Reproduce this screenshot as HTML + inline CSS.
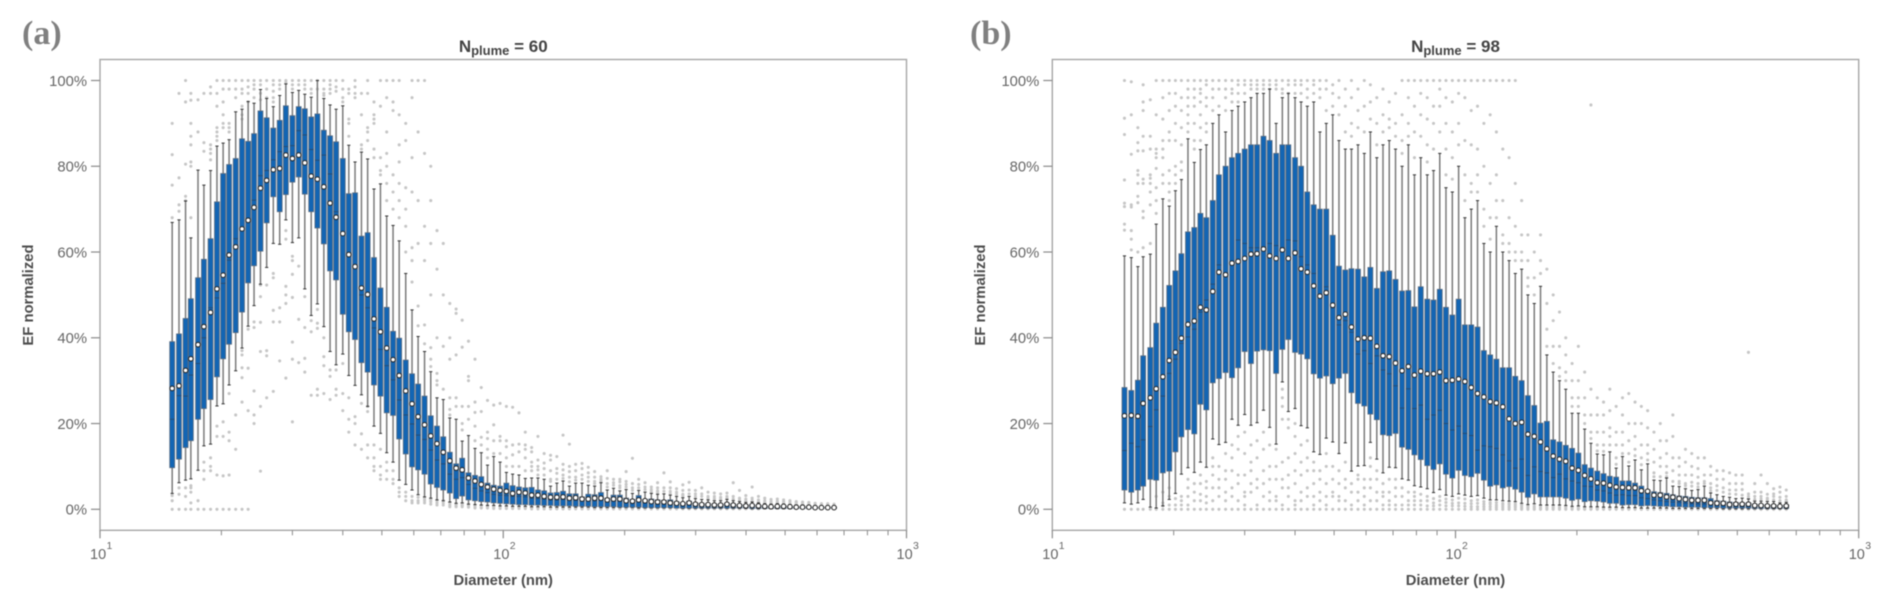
<!DOCTYPE html>
<html lang="en">
<head>
<meta charset="utf-8">
<title>EF normalized vs diameter</title>
<style>
html,body{margin:0;padding:0;background:#fff;width:1892px;height:610px;overflow:hidden}
svg{display:block;filter:blur(0.45px)}
text{font-family:"Liberation Sans",sans-serif}
</style>
</head>
<body>
<svg id="chart" xmlns="http://www.w3.org/2000/svg" width="1892" height="610" viewBox="0 0 1892 610"></svg>
<script>
const diameters=[
15.1,15.7,16.3,16.8,17.5,18.1,18.8,19.5,20.2,20.9,
21.7,22.5,23.3,24.1,25.0,25.9,26.9,27.9,28.9,30.0,
31.1,32.2,33.4,34.6,35.9,37.2,38.5,40.0,41.4,42.9,
44.5,46.1,47.8,49.6,51.4,53.3,55.2,57.3,59.4,61.5,
63.8,66.1,68.5,71.0,73.7,76.4,79.1,82.0,85.1,88.2,
91.4,94.7,98.2,101.8,105.5,109.4,113.4,117.6,121.9,126.3,
131.0,135.8,140.7,145.9,151.2,156.8,162.5,168.5,174.7,181.1,
187.7,194.6,201.7,209.1,216.7,224.7,232.9,241.4,250.3,259.5,
269.0,278.8,289.0,299.6,310.6,322.0,333.8,346.0,358.7,371.8,
385.4,399.5,414.2,429.4,445.1,461.4,478.3,495.8,514.0,532.8,
552.3,572.5,593.5,615.3,637.8,661.2];
const yTicks=[0,20,40,60,80,100];
const xMajorExponents=[1,2,3];
const xMinorMultipliers=[2,3,4,5,6,7,8,9];

const meanA=[
28.2,28.8,32.4,35.1,38.4,42.6,45.9,51.4,54.6,59.3,
61.2,65.4,67.4,70.4,74.9,76.7,79.2,79.5,82.6,81.8,
82.6,80.8,77.7,77.0,75.2,71.4,68.1,64.3,59.4,56.6,
51.6,50.1,44.4,41.4,37.6,34.9,31.2,27.6,24.6,21.6,
19.7,17.1,15.3,13.3,11.3,9.6,9.2,7.3,6.6,5.8,
5.2,4.7,4.4,4.2,3.7,4.0,3.8,3.3,3.3,3.0,
2.8,2.8,2.9,2.6,2.7,2.4,2.4,2.6,2.6,2.2,
2.4,2.4,2.0,1.9,2.2,2.0,1.8,1.7,1.7,1.5,
1.4,1.3,1.5,1.2,1.1,1.1,1.0,1.0,1.2,1.0,
0.9,0.8,0.9,0.8,0.7,0.6,0.7,0.7,0.6,0.5,
0.5,0.5,0.4,0.4,0.4,0.4];
const q3A=[
39.1,40.9,44.5,49.1,54.0,58.3,63.1,71.7,78.3,80.4,
81.8,86.4,85.8,87.6,92.9,91.3,88.9,90.7,94.1,91.8,
93.9,93.4,91.5,92.2,88.4,87.1,85.7,81.8,73.6,73.8,
63.7,64.5,58.7,51.6,47.1,41.5,39.9,34.8,31.6,29.2,
26.4,21.8,19.4,16.9,13.3,10.6,11.9,8.5,7.9,7.6,
6.1,5.6,5.4,6.1,5.5,5.2,5.0,5.1,4.5,4.3,
3.8,3.9,4.2,3.6,3.6,2.9,3.5,3.4,3.9,2.6,
3.3,3.3,2.6,2.3,3.2,2.3,2.4,2.2,2.1,2.2,
1.8,1.6,1.9,1.5,1.4,1.3,1.2,1.2,1.4,1.2,
1.1,1.0,1.1,0.9,0.8,0.7,0.8,0.8,0.7,0.6,
0.6,0.6,0.5,0.5,0.5,0.5];
const q1A=[
9.7,11.7,14.4,16.0,21.0,23.5,25.6,30.9,35.1,38.5,
41.2,46.0,52.8,56.8,60.2,66.8,72.9,69.4,73.4,76.3,
77.5,73.5,69.4,65.6,61.9,55.6,53.5,45.5,41.4,39.6,
34.2,32.0,29.0,26.4,22.5,21.9,16.4,12.9,9.9,9.2,
8.2,5.9,5.1,4.5,3.8,2.5,3.1,2.2,2.0,1.8,
1.7,1.5,1.4,1.3,1.2,1.1,1.1,1.0,1.0,0.9,
0.9,0.8,0.8,0.8,0.7,0.7,0.7,0.6,0.6,0.6,
0.6,0.5,0.5,0.5,0.5,0.4,0.4,0.4,0.4,0.4,
0.3,0.3,0.3,0.3,0.3,0.3,0.3,0.3,0.3,0.3,
0.3,0.3,0.2,0.2,0.2,0.2,0.2,0.2,0.2,0.2,
0.2,0.2,0.2,0.2,0.2,0.2];
const medianA=[
21.0,26.5,26.4,31.3,34.0,40.0,47.0,49.3,52.7,58.1,
63.1,65.0,67.0,72.1,77.8,79.0,81.5,83.4,84.6,84.8,
88.3,87.3,83.9,81.4,82.6,78.2,69.4,63.9,59.7,57.0,
50.0,47.0,42.3,37.3,33.5,30.2,25.5,22.0,19.9,17.3,
16.3,13.8,11.5,10.6,8.2,7.0,7.4,5.8,4.9,4.3,
3.9,3.5,3.3,3.2,3.0,3.0,2.9,2.6,2.5,2.4,
2.2,2.2,2.3,2.1,2.1,1.9,2.0,2.0,2.1,1.7,
1.9,1.9,1.6,1.5,1.8,1.5,1.4,1.3,1.3,1.2,
1.1,1.0,1.1,0.9,0.9,0.8,0.8,0.8,0.9,0.8,
0.7,0.6,0.7,0.6,0.6,0.5,0.5,0.5,0.5,0.4,
0.4,0.4,0.4,0.3,0.3,0.3];
const highA=[
66.9,67.5,71.9,63.3,79.1,75.6,79.0,84.7,85.4,86.2,
92.7,93.3,95.1,94.7,97.9,95.8,93.9,96.5,99.2,97.2,
97.7,96.8,96.1,100,95.8,94.3,93.3,94.1,84.9,81.0,
83.3,81.7,74.7,75.9,68.4,66.2,62.6,55.0,46.5,40.3,
36.8,32.1,26.0,25.6,21.3,21.0,15.9,17.2,14.2,13.2,
10.3,12.3,11.0,8.6,8.2,8.0,7.2,7.3,7.3,7.0,
5.4,6.1,6.6,5.4,6.1,6.1,5.6,5.4,6.2,4.5,
4.9,4.3,4.6,3.7,4.4,4.0,3.7,3.5,3.6,3.3,
3.0,2.7,3.0,2.5,2.3,2.2,2.0,2.0,2.3,2.0,
1.8,1.6,1.7,1.5,1.3,1.2,1.3,1.2,1.1,1.0,
1.0,0.9,0.8,0.8,0.8,0.8];
const lowA=[
3.7,6.2,6.8,7.1,9.1,14.8,15.2,24.1,24.6,29.0,
32.3,37.6,42.7,47.5,52.5,56.4,62.0,61.8,67.5,62.2,
63.3,51.4,45.2,47.9,42.6,36.8,33.7,36.2,31.2,28.9,
26.7,24.0,19.4,17.7,13.2,11.0,6.8,5.8,4.5,3.4,
2.9,2.6,2.2,2.0,1.7,1.4,1.5,1.2,1.1,1.0,
0.9,0.9,0.8,0.8,0.7,0.7,0.7,0.6,0.6,0.6,
0.5,0.5,0.5,0.5,0.5,0.5,0.5,0.4,0.4,0.4,
0.4,0.4,0.4,0.4,0.3,0.3,0.3,0.3,0.3,0.3,
0.3,0.2,0.2,0.2,0.2,0.2,0.2,0.2,0.2,0.2,
0.2,0.2,0.1,0.1,0.1,0.1,0.1,0.1,0.1,0.1,
0.1,0.1,0.1,0.1,0.1,0.1];
const outliersA=[
[90,82.7,75.6,68,0,2,3.2],
[97,77.3,71,69.5,0,3.5,5],
[100,95,80.5,73,72,0,3,5],
[97,95.4,90,87,85,81,80,68,0,1.5,4,5,5.5],
[95.5,88,0,2],
[97,85.5,83.5,0,7,9,11],
[98.5,97,85,84,83,81.5,0,9,10,12],
[100,97,94,89,88,87,86,0,8,19.4,17],
[100,98,95,92,90,89,0,7.8,20.4,17],
[100,98,90,89,88,0,8,27,18,16],
[100,98,96,0,14,22],
[100,98,97,94,92,91,0,37,36,33,30.7,25],
[100,98.5,97,95,0,42,32.9,23],
[100,99,98,96,43.7,42.4,27.6,22,20],
[100,99,97,95.5,52.3,49.6,43.6,36.8,24,8.9],
[100,98,96,52.3,37,35.8,26],
[100,99,97.5,96,95,55,54,46.4,43.7,27.5],
[100,99,98,47,43.7,34.6],
[100,99.5,65,63,52,50,48,30.6],
[100,99,98,59,58,54.8,49.4,39,35,20.4],
[100,99,56.7,44.3,34.2],
[100,99,98,49.6,42.4,35.2,32],
[100,98,97,44,41.4,26.6],
[100,98,46.6,43.4,42.2,28,26.6],
[100,98,97,96.5,40,35.6,33.5,27],
[100,99,98,97,32.5,31,25.6],
[100,98.5,97.5,32.5,28,26.6],
[100,98,96,95,34,27,23],
[98,97,91,90,87,26,21,18],
[100,98.5,97,96,21.6,20,15],
[97,92,85,84,24.7,17.6,14],
[100,97,89,88,86,24,22.8,15,12],
[95,92,91,90,84,82,15,12,10,9],
[100,94,82,79,78,14,10,8,7],
[100,96,88,83,80,76,72,11,9,7],
[100,95,93,78,74,70,9,7,6],
[100,92,85,81,76,72,68,5,4,3],
[90,86,75,70,66,60,4,3,2],
[100,96,82,74,61,58,53,3,2,1.5],
[100,88,72,62,47.4,42.8,2.8,2,1.5],
[100,83,66,58,43,38.6,2.5,2,1.5],
[80,72,62,50,37.7,35,33.3,2.3,1.8,1.2],
[65,56,40,31.7,30,29,2,1.5,1],
[62,50,38,28,2,1.5,1],
[48,40,35,26,23.3,22,1.5,1,0.6],
[46.7,45.7,36,26,24,1.2,0.9,0.6],
[44.1,37.8,24,20,18.5,1.2,0.9,0.6],
[39.2,31,30,24,21,1.1,0.8,0.5],
[35,25,22.6,19.4,16,0.9,0.6,0.3],
[28.4,22.8,16.8,15,0.8,0.5,0.3],
[25.4,18,16.5,14,12,0.8,0.5,0.3],
[24.3,19.7,16,13,0.8,0.5,0.2],
[24.7,17,16,13,0.7,0.4,0.2],
[24,16,14.6,12,10,0.7,0.4,0.2],
[23.8,15,12.7,10,0.6,0.4,0.2],
[22.5,15.2,13.4,10,0.6,0.4,0.2],
[18,15,14,12,9,0.6,0.4,0.2],
[14.4,13.4,11,10,9,0.5,0.3,0.1],
[17,11.5,10,9.2,8,0.5,0.3,0.1],
[13,10.8,9.5,8,0.5,0.3,0.1],
[12.6,11.5,9,7,6.5,0.4,0.2,0.1],
[12.3,9.5,8.4,7,0.4,0.2,0.1],
[17.3,10.5,9.2,8,7.2,0.4,0.2,0.1],
[15.2,10,8.8,7.5,6.4,0.4,0.2,0.1],
[10.5,9,7.5,6.8,0.3,0.1],
[10.7,9.5,8,7,0.3,0.1],
[9.8,8.5,7.5,6.5,0.3,0.1],
[8.8,7.5,6.5,6,0.3,0.1],
[7.6,7,6.6,0.3,0.1],
[9,7.2,6,5.2,0.3,0.1],
[7,6.2,5.6,0.2,0.1],
[7,6.4,5.5,5,0.2,0.1],
[8.8,6.5,5.8,5.2,0.2,0.1],
[11.9,6,5,4.4,0.2,0.1],
[7,5.8,5,0.2,0.1],
[6.2,5.2,4.6,0.2,0.1],
[5.2,4.6,4.1,0.1],
[6.2,5,4.3,3.9,0.1],
[8.5,5,4.2,0.1],
[6.4,5,4.2,3.7,0.1],
[4.8,4,3.5,0.1],
[5.7,4.4,3.5,3.2,0.1],
[6.3,4.5,3.6,0.1],
[4.4,3.6,3,0.1],
[5,3.6,3,0.1],
[4,3,2.6,0.1],
[3.8,3,2.5,0.1],
[3.6,2.8,2.4,0.1],
[3.8,3,2.6,0.1],
[6.2,3,2.4,0.1],
[4.4,2.6,2.2,0.1],
[3.2,2.4,2,0.1],
[5.2,2.6,2.1,0.1],
[3,2.2,1.8,0.1],
[2.6,2,1.6],
[2.3,1.8,1.5],
[2.4,1.9,1.6],
[2.2,1.8,1.5],
[2,1.6,1.3],
[1.8,1.5,1.2],
[1.7,1.4,1.2],
[1.6,1.3],
[1.4,1.1],
[1.3,1.1],
[1.3,1],
[1.2,1]];

const meanB=[
21.8,21.9,21.7,24.7,26.0,28.1,30.9,34.7,36.6,39.9,
43.1,43.9,47.1,46.5,50.8,55.3,54.7,57.4,57.8,58.5,
59.5,59.6,60.7,59.1,58.5,60.5,58.5,59.8,56.1,55.3,
52.1,49.7,50.5,47.6,44.7,45.5,42.5,39.7,40.0,39.9,
38.0,35.8,35.6,34.1,32.3,33.3,31.3,32.2,31.6,31.6,
32.0,30.0,30.1,30.4,29.8,28.4,27.0,26.2,25.1,24.8,
23.9,21.1,20.0,20.3,17.5,17.0,15.7,14.1,12.4,11.7,
11.2,9.6,9.1,7.9,7.1,6.2,6.1,5.6,5.2,5.1,
5.0,5.0,4.3,4.2,3.3,3.3,2.9,2.8,2.5,2.3,
2.1,2.1,2.1,1.5,1.4,1.4,1.1,1.2,1.2,1.2,
0.9,0.9,0.8,0.8,0.7,0.8];
const q3B=[
28.4,27.7,30.1,35.8,37.7,43.4,47.1,52.2,55.6,59.6,
64.7,65.7,69.0,68.0,72.0,78.0,80.0,82.0,83.0,84.0,
85.0,85.0,87.0,86.0,83.0,85.0,85.0,82.0,80.0,74.0,
71.0,70.0,70.0,63.9,56.7,55.8,56.1,56.0,54.2,56.4,
51.5,55.4,55.6,53.6,50.9,51.0,47.2,51.9,49.0,48.8,
51.3,47.1,45.3,49.0,43.0,43.0,42.5,37.0,36.0,35.0,
33.0,33.0,31.0,30.0,26.5,24.2,20.1,20.5,16.2,15.7,
14.9,14.2,13.1,10.4,9.6,8.9,8.3,7.7,7.5,6.6,
6.6,6.1,5.4,4.5,4.1,3.9,3.7,3.4,3.1,3.0,
2.8,2.7,2.7,2.5,2.0,1.9,1.7,1.6,1.5,1.5,
1.2,1.1,1.0,1.0,0.9,1.0];
const q1B=[
4.5,4.0,4.5,5.4,7.0,6.8,8.5,8.9,13.4,16.9,
18.6,17.6,24.5,23.2,29.5,30.5,31.9,30.7,33.0,36.8,
34.0,36.9,37.2,37.0,31.7,37.3,39.6,36.6,36.2,35.1,
31.6,30.6,31.1,29.3,30.6,31.7,27.2,24.7,24.1,22.2,
20.9,17.4,17.2,17.7,14.5,14.0,12.7,11.6,10.2,9.3,
10.6,8.2,7.3,9.1,7.9,7.6,8.4,6.8,5.4,5.7,
5.0,5.3,4.7,4.0,2.8,3.6,2.9,2.9,2.9,2.9,
2.6,2.1,2.4,1.8,2.0,1.9,1.7,1.4,1.4,1.0,
1.1,1.1,0.8,0.9,0.8,0.7,0.7,0.6,0.6,0.5,
0.5,0.5,0.4,0.4,0.4,0.3,0.3,0.3,0.3,0.3,
0.2,0.2,0.2,0.2,0.2,0.2];
const medianB=[
13.7,15.4,14.6,16.2,19.3,23.2,26.4,31.7,35.0,38.7,
40.2,42.0,46.0,48.8,52.5,57.0,55.0,57.0,62.8,62.0,
61.0,61.0,61.2,62.0,61.5,61.0,62.8,62.6,58.9,57.0,
55.0,50.0,51.9,47.0,43.0,44.0,41.3,36.2,37.0,34.0,
35.8,32.5,31.6,28.8,23.6,28.1,23.5,24.3,21.0,22.0,
23.1,20.0,18.5,19.4,17.7,17.2,13.8,14.8,14.6,14.2,
12.7,11.3,9.6,11.7,7.9,9.9,8.8,8.5,7.4,8.2,
7.1,6.6,6.2,5.4,5.3,4.5,4.3,3.8,3.3,3.4,
3.2,3.2,2.7,2.5,2.2,2.0,1.8,1.7,1.6,1.4,
1.3,1.2,1.2,1.1,0.9,0.9,0.8,0.8,0.7,0.7,
0.6,0.6,0.5,0.5,0.5,0.5];
const highB=[
59.1,58.7,56.6,58.9,59.5,66.5,72.4,70.7,74.3,76.9,
86.4,80.9,83.9,85.0,90.0,92.0,88.0,93.0,94.0,95.0,
96.0,97.0,97.0,98.0,90.0,96.0,97.0,96.0,95.0,94.0,
95.0,88.0,90.0,92.0,86.0,84.0,84.0,85.0,83.0,88.0,
82.0,85.0,86.0,84.0,80.0,85.0,78.0,82.0,78.0,79.0,
83.0,75.0,74.0,80.0,68.0,70.0,72.0,62.0,60.0,66.0,
60.0,58.0,55.0,56.0,50.0,48.0,52.0,36.0,32.0,30.0,
28.0,22.4,22.4,18.7,15.4,12.9,12.7,13.4,9.6,12.3,
10.1,11.5,9.2,10.6,6.8,6.7,7.3,5.4,5.3,4.8,
4.4,4.6,5.4,3.8,3.4,3.0,2.8,2.5,2.6,2.4,
1.9,1.9,1.8,1.8,1.5,1.6];
const lowB=[
1.5,1.2,1.5,2.3,0.5,0.3,0.8,2.3,3.7,8.2,
9.7,8.6,11.0,9.8,16.4,15.1,15.6,21.0,19.6,22.1,
19.6,20.2,23.1,19.1,15.2,29.7,22.8,23.5,19.5,19.0,
13.4,12.8,16.6,15.7,13.0,15.5,8.9,10.1,10.2,15.6,
11.7,8.5,9.8,9.7,7.1,6.8,5.5,5.2,4.8,3.9,
4.6,3.3,3.0,3.6,3.3,3.0,3.2,2.6,2.2,2.2,
2.0,1.9,1.8,1.4,1.1,1.3,1.0,1.0,1.0,1.0,
0.9,0.7,0.8,0.6,0.6,0.6,0.5,0.5,0.5,0.4,
0.4,0.4,0.3,0.3,0.3,0.3,0.3,0.2,0.2,0.2,
0.2,0.2,0.2,0.2,0.2,0.1,0.1,0.1,0.1,0.1,
0.1,0.1,0.1,0.1,0.1,0.1];
const outliersB=[
[100,91.2,87.4,76.8,71.4,70.6,66.5,65.1,0],
[99.7,92,82.8,71,70.5,65,63,60.5,0],
[89,85.5,83.6,79,78,76,73,71.5,60,0],
[99,95,93,87,83.6,77,76,69.5,68,61,0],
[95.5,87,84,78,77.2,76,74,71,62,0],
[100,92,84,83,82,79.5,75,72,69,0,3],
[100,96,91,86,84,82,78,76,0,0.8,1.5,4],
[100,97,93,88,86,79,76,74,72,0,1,3,5],
[100,97,94,90,86,80,78,76,0,1,2.5],
[100,96,93,89,85,81,79,0,1,2,3],
[100,98,96,94,92,90,88,0,1,3,5,7],
[100,98,96,94,90,86,84,0,2,4,6],
[100,98,97,95,92,89,86,0,2,3.5,6,8],
[100,99,96,94,90,88,0,1.5,3,5,6.5],
[100,98,96,93,0,2,5,8,10,12],
[100,98,94,0,3,5,7,10],
[100,98,96,93,0,2,4,7,9,13],
[100,98,97,95,0,3,5,9,12,15],
[100,99,97,95,0,2,6,8,14,17],
[100,99,97,0,1,3,4,8,13,18],
[100,99,98,0,4,6,9,11,15],
[100,99,98,0,1,5,7,12,16],
[100,99,98,0,3,6,9,14,18],
[100,99,98,0,2,4,7,10,15],
[100,99,98,0,2,3,7,10,14],
[100,98,97,0,1,5,7,11,21,24,26,28],
[100,99,97,0,3,5,8,12,19,21],
[100,99,97,0,1,2,6,9,13,17,20],
[100,99,97,0,2,4,8,11,15],
[100,98,96,0,3,5,9,12,16],
[100,99,97,0,1,3,6,9,11],
[100,98,96,0,2,4,7,9],
[100,98,93,0,1,3,6,10,13],
[99,97,94,0,3,4,7,10],
[100,96,92,0,2,3,6,9],
[98,94,88,0,2,5,7,11],
[100,96,90,87,0,1,4,6],
[98,93,89,0,2,4,7,8],
[100,94,88,0,1,3,5,7],
[99,95,91,0,2,5,7,10,12],
[96,90,85,0,2,4,7,9],
[98,92,88,0,1,3,4,6],
[95,91,89,0,1,2,4,7],
[97,90,87,0,1,3,5,7],
[100,92,86,83,0,1,3,5],
[100,96,90,87,0,1,2,4],
[100,94,88,82,0,1,2,3,4],
[100,97,92,87,0,1,2,3.5],
[100,96,91,85,81,0,0.8,2,3],
[100,94,90,84,0,0.8,1.5,2.5],
[100,98,94,88,0,1,2,3],
[100,96,90,84,78,0,0.8,1.6,2.4],
[100,95,88,82,77,0,0.8,1.4,2.2],
[100,97,90,85,0,0.8,1.5,2.6],
[100,96,86,78,72,0,0.7,1.4,2.4],
[100,93,85,76,74,0,0.6,1.3,2],
[100,94,84,78,74,0,0.6,1.4,2.2],
[100,90,80,70,66,0,0.6,1.2,1.8],
[100,92,76,68,63,0,0.6,1.2,1.6],
[100,88,78,72,68,0,0.5,1,1.6],
[100,84,72,64,62,0,0.5,1,1.4],
[100,82,68,62,60,0,0.5,1,1.4],
[100,76,66,60,58,0,0.5,0.9,1.3],
[72,64,60,58,0,0.4,0.8,1],
[64,58,54,52,0,0.4,0.7],
[60,54,50,0,0.4,0.8],
[64,58,55,0,0.3,0.7],
[56,48,42,38,0,0.3,0.7],
[50,44,38,34,0,0.3,0.6],
[46,38,33,31,0,0.3,0.6],
[40,36,32,30,0,0.3,0.6],
[34,30,26,24,0,0.3,0.5],
[38,30,26,24,0,0.2,0.5],
[32,26,22,20,0,0.2,0.5],
[94.3,28,22,18,16.5,0,0.2,0.4],
[26,22,18,15,13.6,0,0.2,0.4],
[25,22,18,15,13.5,0,0.2,0.4],
[28,23,19,17,15,0,0.2,0.3],
[24,18,15,12,10.5,0,0.2,0.3],
[26,22,18,15,13,0,0.1,0.3],
[27,20,16,13,11,0,0.1,0.3],
[25,20,17,14,12.5,0,0.1,0.3],
[24,20,15,12,10.4,0,0.1],
[23,19,15,13,11.5,0,0.1],
[18,14,11,8.5,7.6,0,0.1],
[20,16,12,10,7.6,0,0.1],
[16,13,10,8.5,7.6,0,0.1],
[22,17,12,9,6.5,0,0.1],
[12,10,8,6.5,6,0,0.1],
[14,11,8,6,5.5,0,0.1],
[13,10,8,6.3,5.4,0,0.1],
[12,9.5,7.5,6,5.2,0,0.1],
[12,8,6.5,6,0,0.1],
[10,8,6,5,4.3,0,0.1],
[9,7,5.5,4.4,0,0.1],
[9,7,5,4,0,0.1],
[8.5,6,4.5,3.6,0,0.1],
[8,6,4.5,3.5,0,0.1],
[8,6,4.6,3.3,0,0.1],
[36.6,3.6,3,2.5,0,0.1],
[6,4,3,2.3,0,0.1],
[8,4,3,2.4,0,0.1],
[6,3.5,2.6,2.2,0,0.1],
[4.8,3.6,3,2.2,0,0.1],
[5.2,4,2.8,2,0,0.1],
[4.5,3,2.2,1.9,0,0.1],
[5.3,2.6,2,1.8,0,0.1]];

const panelLayouts=[
 {key:'a',left:100,right:906.5,label:'(a)',labelX:22,titleValue:'60',yTitleX:33,
  means:meanA,q3s:q3A,q1s:q1A,medians:medianA,highs:highA,lows:lowA,outliers:outliersA},
 {key:'b',left:1052.3,right:1858.7,label:'(b)',labelX:970,titleValue:'98',yTitleX:985,
  means:meanB,q3s:q3B,q1s:q1B,medians:medianB,highs:highB,lows:lowB,outliers:outliersB}
];

const NS='http://www.w3.org/2000/svg';
const root=document.getElementById('chart');
const TOP=59.5,BOTTOM=530.3,Y0=509.3,Y100=80.5;
function yScale(p){return Y0+(Y100-Y0)*p/100;}
function make(parent,tag,attrs,txt){
  const el=document.createElementNS(NS,tag);
  for(const k in attrs){el.setAttribute(k,attrs[k]);}
  if(txt!==undefined){el.textContent=txt;}
  parent.appendChild(el);
  return el;
}
function drawPanel(p){
  const xScale=d=>p.left+(Math.log10(d)-1)*(p.right-p.left)/2;
  const g=make(root,'g',{});
  
  

  const label=make(g,'text',{x:p.labelX,y:44,fill:'#808080','font-size':34,'font-weight':'bold',style:'font-family:"Liberation Serif",serif'},p.label);
  
  

  const cx=(p.left+p.right)/2;
  const title=make(g,'text',{x:cx,y:52,fill:'#444','font-size':17,'font-weight':'bold','text-anchor':'middle'});
  
  
  make(title,'tspan',{},'N');
  make(title,'tspan',{dy:3,'font-size':13},'plume');
  make(title,'tspan',{dy:-3},' = '+p.titleValue);

  const frame=make(g,'rect',{x:p.left,y:TOP,width:p.right-p.left,height:BOTTOM-TOP,fill:'#fff',stroke:'#a6a6a6','stroke-width':1.4});
  
  

  yTicks.forEach(t=>{
    const y=yScale(t);
    const tick=make(g,'line',{x1:p.left-9,x2:p.left,y1:y,y2:y,stroke:'#8a8a8a','stroke-width':1.2});
    
    
    const lab=make(g,'text',{x:p.left-13,y:y+5.3,fill:'#666','font-size':14.8,'text-anchor':'end'},t+'%');
    
    
  });
  xMajorExponents.forEach(e=>{
    const x=xScale(Math.pow(10,e));
    const tick=make(g,'line',{x1:x,x2:x,y1:BOTTOM,y2:BOTTOM+8,stroke:'#8a8a8a','stroke-width':1.2});
    
    
    const lab=make(g,'text',{x:x-10,y:559,fill:'#666','font-size':14.5},'10');
    
    
    const sup=make(g,'text',{x:x+6.5,y:549,fill:'#666','font-size':10.5},String(e));
    
    
    if(e<3){
      xMinorMultipliers.forEach(m=>{
        const mx=xScale(m*Math.pow(10,e));
        const minor=make(g,'line',{x1:mx,x2:mx,y1:BOTTOM,y2:BOTTOM+5,stroke:'#8a8a8a','stroke-width':1});
        
        
      });
    }
  });
  const xTitle=make(g,'text',{x:cx,y:585,fill:'#4d4d4d','font-size':14.8,'font-weight':'bold','text-anchor':'middle'},'Diameter (nm)');
  
  
  const yTitle=make(g,'text',{x:0,y:0,fill:'#4d4d4d','font-size':14.8,'font-weight':'bold','text-anchor':'middle',transform:'translate('+p.yTitleX+',295) rotate(-90)'},'EF normalized');
  
  

  const outG=make(g,'g',{});
  
  
  const whiskG=make(g,'g',{});
  
  
  const boxG=make(g,'g',{});
  
  
  const meanG=make(g,'g',{});
  
  

  diameters.forEach((d,i)=>{
    const x=xScale(d);
    p.outliers[i].forEach(v=>{
      const o=make(outG,'circle',{cx:x,cy:yScale(v),r:1.55,fill:'#c6c6c6'});
      
      
    });
    const yh=yScale(p.highs[i]),yl=yScale(p.lows[i]);
    const w=make(whiskG,'line',{x1:x,x2:x,y1:yh,y2:yl,stroke:'#7a7a7a','stroke-width':1.5});
    
    
    const c1=make(whiskG,'line',{x1:x-1.6,x2:x+1.6,y1:yh,y2:yh,stroke:'#333','stroke-width':1});
    
    
    const c2=make(whiskG,'line',{x1:x-1.6,x2:x+1.6,y1:yl,y2:yl,stroke:'#333','stroke-width':1});
    
    
    const yt=yScale(p.q3s[i]),yb=yScale(p.q1s[i]);
    const b=make(boxG,'rect',{x:x-2.45,y:yt,width:4.9,height:Math.max(yb-yt,0.3),fill:'#1265b4',stroke:'#5a6b7f','stroke-width':0.8});
    
    
    const ym=yScale(p.medians[i]);
    const m=make(boxG,'line',{x1:x-2.3,x2:x+2.3,y1:ym,y2:ym,stroke:'#274a6e','stroke-width':0.9});
    
    
    const mk=make(meanG,'circle',{cx:x,cy:yScale(p.means[i]),r:2.3,fill:'#fff',stroke:'#1e1e1e','stroke-width':1});
    
    
  });
}
panelLayouts.forEach(drawPanel);
</script>
</body>
</html>
